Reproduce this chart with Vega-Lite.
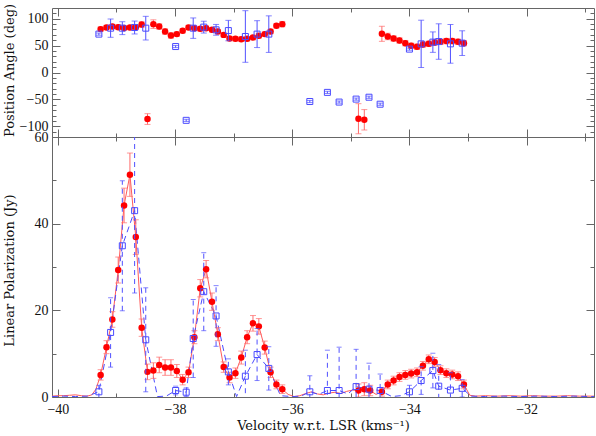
{
  "$schema": "https://vega.github.io/schema/vega-lite/v6.json",
  "padding": {"left": 2, "top": 2, "right": 1, "bottom": 0},
  "spacing": 0,
  "bounds": "flush",
  "config": {
    "font": "Liberation Serif",
    "view": {"stroke": "#666666", "strokeWidth": 1},
    "axis": {
      "labelFont": "Liberation Serif", "titleFont": "DejaVu Serif",
      "labelFontSize": 14, "titleFontSize": 13, "titleFontWeight": "normal",
      "labelColor": "#111111", "titleColor": "#111111",
      "tickColor": "#666666", "domain": false, "grid": false
    }
  },
  "datasets": {
    "red": [
      {"v": -40.1, "pi": 0.2, "m": 0}, {"v": -40.0, "pi": 0.3, "m": 0}, {"v": -39.9, "pi": 0.3, "m": 0},
      {"v": -39.8, "pi": 0.4, "m": 0}, {"v": -39.7, "pi": 0.5, "m": 0}, {"v": -39.6, "pi": 0.3, "m": 0},
      {"v": -39.5, "pi": 0.2, "m": 0}, {"v": -39.42, "pi": 0.5, "m": 0}, {"v": -39.35, "pi": 1.8, "m": 0},
      {"v": -39.27, "pa": 80.7, "pae": 4, "pi": 5.1, "pie": 1.2, "m": 1},
      {"v": -39.17, "pa": 83.7, "pae": 4, "pi": 11.5, "pie": 1.5, "m": 1},
      {"v": -39.07, "pa": 85.5, "pae": 4, "pi": 17.9, "pie": 1.8, "m": 1},
      {"v": -38.97, "pa": 84.4, "pae": 4, "pi": 29.3, "pie": 3, "m": 1},
      {"v": -38.87, "pa": 83.0, "pae": 4, "pi": 44.2, "pie": 4, "m": 1},
      {"v": -38.77, "pa": 83.7, "pae": 4, "pi": 51.3, "pie": 5, "m": 1},
      {"v": -38.67, "pa": 84.4, "pae": 4, "pi": 36.9, "pie": 4, "m": 1},
      {"v": -38.57, "pa": 89.2, "pae": 5, "pi": 16.0, "pie": 2, "m": 1},
      {"v": -38.47, "pa": -86.6, "pae": 10, "pi": 5.8, "pie": 1.8, "m": 1},
      {"v": -38.37, "pa": 90.0, "pae": 8, "pi": 6.1, "pie": 1.8, "m": 1},
      {"v": -38.27, "pa": 85.5, "pae": 5, "pi": 7.4, "pie": 1.8, "m": 1},
      {"v": -38.17, "pa": 76.2, "pae": 5, "pi": 6.8, "pie": 1.8, "m": 1},
      {"v": -38.07, "pa": 68.8, "pae": 5, "pi": 6.8, "pie": 1.8, "m": 1},
      {"v": -37.97, "pa": 71.4, "pae": 4, "pi": 6.0, "pie": 1.5, "m": 1},
      {"v": -37.87, "pa": 77.5, "pae": 4, "pi": 4.0, "pie": 1.2, "m": 1},
      {"v": -37.77, "pa": 83.7, "pae": 4, "pi": 5.7, "pie": 1.2, "m": 1},
      {"v": -37.67, "pa": 82.5, "pae": 4, "pi": 13.8, "pie": 1.5, "m": 1},
      {"v": -37.57, "pa": 81.2, "pae": 4, "pi": 25.1, "pie": 2, "m": 1},
      {"v": -37.47, "pa": 82.5, "pae": 4, "pi": 29.5, "pie": 2, "m": 1},
      {"v": -37.37, "pa": 79.4, "pae": 4, "pi": 22.0, "pie": 2, "m": 1},
      {"v": -37.27, "pa": 76.2, "pae": 4, "pi": 14.5, "pie": 1.5, "m": 1},
      {"v": -37.17, "pa": 70.0, "pae": 4, "pi": 6.9, "pie": 1.2, "m": 1},
      {"v": -37.07, "pa": 63.2, "pae": 4, "pi": 4.5, "pie": 1.2, "m": 1},
      {"v": -36.97, "pa": 62.6, "pae": 4, "pi": 5.5, "pie": 1.2, "m": 1},
      {"v": -36.87, "pa": 62.0, "pae": 4, "pi": 9.1, "pie": 1.5, "m": 1},
      {"v": -36.77, "pa": 62.6, "pae": 4, "pi": 13.8, "pie": 1.5, "m": 1},
      {"v": -36.67, "pa": 65.0, "pae": 4, "pi": 17.0, "pie": 1.8, "m": 1},
      {"v": -36.57, "pa": 68.2, "pae": 4, "pi": 16.3, "pie": 1.8, "m": 1},
      {"v": -36.47, "pa": 71.4, "pae": 4, "pi": 11.4, "pie": 1.5, "m": 1},
      {"v": -36.37, "pa": 76.2, "pae": 4, "pi": 5.7, "pie": 1.2, "m": 1},
      {"v": -36.27, "pa": 86.8, "pae": 4, "pi": 2.9, "pie": 1, "m": 1},
      {"v": -36.17, "pa": 90.0, "pae": 5, "pi": 1.8, "pie": 1, "m": 1},
      {"v": -36.07, "pi": 0.6, "m": 0}, {"v": -35.97, "pi": 0.1, "m": 0}, {"v": -35.87, "pi": 0.3, "m": 0},
      {"v": -35.77, "pi": 0.8, "m": 0}, {"v": -35.67, "pi": 1.2, "m": 0}, {"v": -35.57, "pi": 0.7, "m": 0},
      {"v": -35.47, "pi": 0.5, "m": 0}, {"v": -35.37, "pi": 0.9, "m": 0}, {"v": -35.27, "pi": 1.1, "m": 0},
      {"v": -35.17, "pi": 0.8, "m": 0}, {"v": -35.07, "pi": 1.3, "m": 0}, {"v": -34.97, "pi": 1.6, "m": 0},
      {"v": -34.87, "pa": -86, "pae": 28, "pi": 1.5, "pie": 1.5, "m": 1},
      {"v": -34.77, "pa": -88, "pae": 19, "pi": 1.8, "pie": 1.5, "m": 1},
      {"v": -34.67, "pi": 1.5, "pie": 1.2, "m": 1},
      {"v": -34.57, "pi": 0.6, "m": 0},
      {"v": -34.47, "pa": 72.0, "pae": 14, "pi": 1.2, "pie": 1, "m": 1},
      {"v": -34.37, "pa": 67.0, "pae": 6, "pi": 2.9, "pie": 1, "m": 1},
      {"v": -34.27, "pa": 63.2, "pae": 5, "pi": 3.8, "pie": 1, "m": 1},
      {"v": -34.17, "pa": 59.5, "pae": 5, "pi": 4.6, "pie": 1, "m": 1},
      {"v": -34.07, "pa": 54.6, "pae": 5, "pi": 5.1, "pie": 1, "m": 1},
      {"v": -33.97, "pa": 49.6, "pae": 5, "pi": 5.4, "pie": 1, "m": 1},
      {"v": -33.87, "pa": 47.8, "pae": 5, "pi": 5.7, "pie": 1, "m": 1},
      {"v": -33.77, "pa": 52.0, "pae": 5, "pi": 7.2, "pie": 1, "m": 1},
      {"v": -33.67, "pa": 53.3, "pae": 5, "pi": 8.7, "pie": 1, "m": 1},
      {"v": -33.57, "pa": 55.8, "pae": 5, "pi": 8.1, "pie": 1, "m": 1},
      {"v": -33.47, "pa": 57.0, "pae": 5, "pi": 6.2, "pie": 1, "m": 1},
      {"v": -33.37, "pa": 58.4, "pae": 5, "pi": 5.5, "pie": 1, "m": 1},
      {"v": -33.27, "pa": 58.4, "pae": 5, "pi": 5.2, "pie": 1, "m": 1},
      {"v": -33.17, "pa": 57.0, "pae": 5, "pi": 4.8, "pie": 1, "m": 1},
      {"v": -33.07, "pa": 54.6, "pae": 5, "pi": 2.9, "pie": 1, "m": 1},
      {"v": -32.97, "pi": 0.4, "m": 0}, {"v": -32.87, "pi": 0.2, "m": 0}, {"v": -32.7, "pi": 0.3, "m": 0},
      {"v": -32.5, "pi": 0.2, "m": 0}, {"v": -32.3, "pi": 0.3, "m": 0}, {"v": -32.1, "pi": 0.2, "m": 0},
      {"v": -31.9, "pi": 0.3, "m": 0}, {"v": -31.7, "pi": 0.2, "m": 0}, {"v": -31.5, "pi": 0.2, "m": 0},
      {"v": -31.3, "pi": 0.3, "m": 0}, {"v": -31.1, "pi": 0.2, "m": 0}, {"v": -30.9, "pi": 0.2, "m": 0},
      {"v": -30.8, "pi": 0.2, "m": 0}
    ],
    "blue": [
      {"v": -40.1, "pi": 0.1, "m": 0}, {"v": -39.9, "pi": 0.2, "m": 0}, {"v": -39.7, "pi": 0.1, "m": 0},
      {"v": -39.5, "pi": 0.2, "m": 0},
      {"v": -39.30, "pa": 71.4, "pae": 2, "pi": 1.2, "pie": 1.5, "m": 1},
      {"v": -39.10, "pa": 82.5, "pae": 17, "pi": 14.9, "pie": 8, "m": 1},
      {"v": -38.90, "pa": 82.5, "pae": 12, "pi": 34.9, "pie": 15, "m": 1},
      {"v": -38.69, "pa": 83.7, "pae": 12, "pi": 43.0, "pie": 19, "m": 1},
      {"v": -38.50, "pa": 82.5, "pae": 22, "pi": 13.2, "pie": 12, "m": 1},
      {"v": -38.30, "pi": 0.1, "m": 0}, {"v": -38.15, "pi": 0.2, "m": 0},
      {"v": -37.99, "pa": 48.3, "pae": 2, "pi": 1.5, "pie": 1, "m": 1},
      {"v": -37.81, "pa": -89, "pae": 2, "pi": 1.1, "pie": 1, "m": 1},
      {"v": -37.69, "pa": 82.5, "pae": 19, "pi": 13.5, "pie": 9, "m": 1},
      {"v": -37.51, "pa": 84.4, "pae": 11, "pi": 24.3, "pie": 9, "m": 1},
      {"v": -37.30, "pa": 79.4, "pae": 10, "pi": 18.7, "pie": 7, "m": 1},
      {"v": -37.09, "pa": 78.0, "pae": 19, "pi": 5.8, "pie": 3, "m": 1},
      {"v": -36.95, "pi": 0.1, "m": 0},
      {"v": -36.80, "pa": 67.0, "pae": 48, "pi": 4.8, "pie": 6, "m": 1},
      {"v": -36.60, "pa": 71.4, "pae": 25, "pi": 9.8, "pie": 6, "m": 1},
      {"v": -36.40, "pa": 71.4, "pae": 34, "pi": 6.6, "pie": 5, "m": 1},
      {"v": -36.2, "pi": 0.3, "m": 0}, {"v": -36.0, "pi": 0.1, "m": 0}, {"v": -35.85, "pi": 0.2, "m": 0},
      {"v": -35.70, "pa": -54, "pae": 2, "pi": 1.2, "pie": 3.7, "m": 1},
      {"v": -35.55, "pi": 0.6, "m": 0},
      {"v": -35.40, "pa": -37, "pae": 2, "pi": 1.5, "pie": 9.3, "m": 1},
      {"v": -35.20, "pa": -55, "pae": 2, "pi": 1.5, "pie": 10, "m": 1},
      {"v": -35.05, "pi": 0.7, "m": 0},
      {"v": -34.91, "pa": -49.5, "pae": 2, "pi": 2.4, "pie": 8.6, "m": 1},
      {"v": -34.69, "pa": -46, "pae": 2, "pi": 1.8, "pie": 6, "m": 1},
      {"v": -34.50, "pa": -59, "pae": 2, "pi": 1.5, "pie": 3.8, "m": 1},
      {"v": -34.30, "pi": 0.1, "m": 0}, {"v": -34.15, "pi": 0.3, "m": 0},
      {"v": -34.00, "pa": 43.5, "pae": 2, "pi": 1.2, "pie": 1.5, "m": 1},
      {"v": -33.80, "pa": 53.3, "pae": 44, "pi": 3.8, "pie": 3.2, "m": 1},
      {"v": -33.60, "pa": 56.5, "pae": 19, "pi": 6.1, "pie": 4, "m": 1},
      {"v": -33.50, "pa": 57.6, "pae": 33, "pi": 2.5, "pie": 5, "m": 1},
      {"v": -33.30, "pa": 53.3, "pae": 36, "pi": 1.6, "pie": 4, "m": 1},
      {"v": -33.10, "pa": 54.6, "pae": 23, "pi": 2.0, "pie": 2, "m": 1},
      {"v": -32.95, "pi": 0.2, "m": 0}, {"v": -32.7, "pi": 0.1, "m": 0}, {"v": -32.4, "pi": 0.2, "m": 0},
      {"v": -32.1, "pi": 0.1, "m": 0}, {"v": -31.8, "pi": 0.2, "m": 0}, {"v": -31.5, "pi": 0.1, "m": 0},
      {"v": -31.2, "pi": 0.2, "m": 0}, {"v": -30.9, "pi": 0.1, "m": 0}, {"v": -30.8, "pi": 0.1, "m": 0}
    ]
  },
  "vconcat": [
    {
      "width": 542, "height": 129,
      "resolve": {"axis": {"x": "independent", "y": "independent"}},
      "layer": [
        {
          "data": {"name": "red"},
          "transform": [{"filter": "datum.m == 1 && isValid(datum.pa)"}],
          "mark": {"type": "errorbar", "color": "#ff6b6b", "ticks": {"size": 6}, "clip": true},
          "encoding": {
            "x": {"field": "v", "type": "quantitative", "scale": {"domain": [-40.1, -30.85], "nice": false, "zero": false},
              "axis": {"orient": "bottom", "title": null, "labels": false, "values": [-40,-39,-38,-37,-36,-35,-34,-33,-32,-31],
                "tickSize": {"condition": {"test": "datum.value % 2 == 0", "value": -8}, "value": -4}}},
            "y": {"field": "pa", "type": "quantitative", "scale": {"domain": [-120, 120], "nice": false, "zero": false},
              "axis": {"orient": "left", "title": "Position Angle (deg)", "titleX": -36, "titleY": 62,
                "values": [-110,-100,-90,-80,-70,-60,-50,-40,-30,-20,-10,0,10,20,30,40,50,60,70,80,90,100,110],
                "labelExpr": "datum.value % 50 == 0 ? datum.label : ''",
                "labelPadding": 12,
                "tickSize": {"condition": {"test": "datum.value % 50 == 0", "value": -8}, "value": -4}}},
            "yError": {"field": "pae"}
          }
        },
        {
          "data": {"name": "red"},
          "transform": [{"filter": "datum.m == 1 && isValid(datum.pa)"}],
          "mark": {"type": "point", "shape": "circle", "filled": true, "color": "#ff0000", "size": 42, "opacity": 1, "clip": true},
          "encoding": {
            "x": {"field": "v", "type": "quantitative", "scale": {"domain": [-40.1, -30.85], "nice": false, "zero": false}, "axis": null},
            "y": {"field": "pa", "type": "quantitative", "scale": {"domain": [-120, 120], "nice": false, "zero": false}, "axis": null}
          }
        },
        {
          "data": {"name": "blue"},
          "transform": [{"filter": "datum.m == 1 && isValid(datum.pa)"}],
          "mark": {"type": "errorbar", "color": "#5050ff", "ticks": {"size": 6}, "clip": true},
          "encoding": {
            "x": {"field": "v", "type": "quantitative", "scale": {"domain": [-40.1, -30.85], "nice": false, "zero": false}, "axis": null},
            "y": {"field": "pa", "type": "quantitative", "scale": {"domain": [-120, 120], "nice": false, "zero": false}, "axis": null},
            "yError": {"field": "pae"}
          }
        },
        {
          "data": {"name": "blue"},
          "transform": [{"filter": "datum.m == 1 && isValid(datum.pa)"}],
          "mark": {"type": "point", "shape": "square", "filled": false, "color": "#4a4aff", "size": 36, "strokeWidth": 1, "opacity": 1, "clip": true},
          "encoding": {
            "x": {"field": "v", "type": "quantitative", "scale": {"domain": [-40.1, -30.85], "nice": false, "zero": false}, "axis": null},
            "y": {"field": "pa", "type": "quantitative", "scale": {"domain": [-120, 120], "nice": false, "zero": false}, "axis": null}
          }
        },
        {
          "data": {"name": "blue"},
          "transform": [{"filter": "datum.m == 1 && isValid(datum.pa)"}],
          "mark": {"type": "point", "opacity": 0},
          "encoding": {
            "x": {"field": "v", "type": "quantitative", "scale": {"domain": [-40.1, -30.85], "nice": false, "zero": false},
              "axis": {"orient": "top", "title": null, "labels": false, "values": [-40,-39,-38,-37,-36,-35,-34,-33,-32,-31],
                "tickSize": {"condition": {"test": "datum.value % 2 == 0", "value": -8}, "value": -4}}},
            "y": {"field": "pa", "type": "quantitative", "scale": {"domain": [-120, 120], "nice": false, "zero": false},
              "axis": {"orient": "right", "title": null, "labels": false,
                "values": [-110,-100,-90,-80,-70,-60,-50,-40,-30,-20,-10,0,10,20,30,40,50,60,70,80,90,100,110],
                "tickSize": {"condition": {"test": "datum.value % 50 == 0", "value": -8}, "value": -4}}}
          }
        }
      ]
    },
    {
      "width": 542, "height": 260,
      "resolve": {"axis": {"x": "independent", "y": "independent"}},
      "layer": [
        {
          "data": {"name": "red"},
          "mark": {"type": "line", "color": "#ff5a5a", "strokeWidth": 1, "clip": true},
          "encoding": {
            "x": {"field": "v", "type": "quantitative", "scale": {"domain": [-40.1, -30.85], "nice": false, "zero": false},
              "axis": {"orient": "bottom", "title": "Velocity w.r.t. LSR (kms⁻¹)", "values": [-40,-39,-38,-37,-36,-35,-34,-33,-32,-31],
                "labelExpr": "datum.value % 2 == 0 ? datum.label : ''", "labelPadding": 13, "titlePadding": 3,
                "tickSize": {"condition": {"test": "datum.value % 2 == 0", "value": -8}, "value": -4}}},
            "y": {"field": "pi", "type": "quantitative", "scale": {"domain": [0, 60], "nice": false},
              "axis": {"orient": "left", "title": "Linear Polarization (Jy)", "titleX": -36, "titleY": 133,
                "values": [0, 10, 20, 30, 40, 50, 60],
                "labelExpr": "datum.value % 20 == 0 ? datum.label : ''",
                "labelPadding": 12,
                "tickSize": {"condition": {"test": "datum.value % 20 == 0", "value": -8}, "value": -4}}}
          }
        },
        {
          "data": {"name": "blue"},
          "mark": {"type": "line", "color": "#4a4aff", "strokeWidth": 1, "strokeDash": [6, 4], "clip": true},
          "encoding": {
            "x": {"field": "v", "type": "quantitative", "scale": {"domain": [-40.1, -30.85], "nice": false, "zero": false}, "axis": null},
            "y": {"field": "pi", "type": "quantitative", "scale": {"domain": [0, 60], "nice": false}, "axis": null}
          }
        },
        {
          "data": {"name": "red"},
          "transform": [{"filter": "datum.m == 1"}],
          "mark": {"type": "errorbar", "color": "#ff6b6b", "ticks": {"size": 6}, "clip": true},
          "encoding": {
            "x": {"field": "v", "type": "quantitative", "scale": {"domain": [-40.1, -30.85], "nice": false, "zero": false}, "axis": null},
            "y": {"field": "pi", "type": "quantitative", "scale": {"domain": [0, 60], "nice": false}, "axis": null},
            "yError": {"field": "pie"}
          }
        },
        {
          "data": {"name": "red"},
          "transform": [{"filter": "datum.m == 1"}],
          "mark": {"type": "point", "shape": "circle", "filled": true, "color": "#ff0000", "size": 42, "opacity": 1, "clip": true},
          "encoding": {
            "x": {"field": "v", "type": "quantitative", "scale": {"domain": [-40.1, -30.85], "nice": false, "zero": false}, "axis": null},
            "y": {"field": "pi", "type": "quantitative", "scale": {"domain": [0, 60], "nice": false}, "axis": null}
          }
        },
        {
          "data": {"name": "blue"},
          "transform": [{"filter": "datum.m == 1"}],
          "mark": {"type": "errorbar", "color": "#5050ff", "ticks": {"size": 5}, "rule": {"strokeDash": [5, 4]}, "clip": true},
          "encoding": {
            "x": {"field": "v", "type": "quantitative", "scale": {"domain": [-40.1, -30.85], "nice": false, "zero": false}, "axis": null},
            "y": {"field": "pi", "type": "quantitative", "scale": {"domain": [0, 60], "nice": false}, "axis": null},
            "yError": {"field": "pie"}
          }
        },
        {
          "data": {"name": "blue"},
          "transform": [{"filter": "datum.m == 1"}],
          "mark": {"type": "point", "shape": "square", "filled": false, "color": "#4a4aff", "size": 36, "strokeWidth": 1, "opacity": 1, "clip": true},
          "encoding": {
            "x": {"field": "v", "type": "quantitative", "scale": {"domain": [-40.1, -30.85], "nice": false, "zero": false}, "axis": null},
            "y": {"field": "pi", "type": "quantitative", "scale": {"domain": [0, 60], "nice": false}, "axis": null}
          }
        },
        {
          "data": {"name": "blue"},
          "transform": [{"filter": "datum.m == 1"}],
          "mark": {"type": "point", "opacity": 0},
          "encoding": {
            "x": {"field": "v", "type": "quantitative", "scale": {"domain": [-40.1, -30.85], "nice": false, "zero": false},
              "axis": {"orient": "top", "title": null, "labels": false, "values": [-40,-39,-38,-37,-36,-35,-34,-33,-32,-31],
                "tickSize": {"condition": {"test": "datum.value % 2 == 0", "value": -8}, "value": -4}}},
            "y": {"field": "pi", "type": "quantitative", "scale": {"domain": [0, 60], "nice": false},
              "axis": {"orient": "right", "title": null, "labels": false, "values": [0, 10, 20, 30, 40, 50, 60],
                "tickSize": {"condition": {"test": "datum.value % 20 == 0", "value": -8}, "value": -4}}}
          }
        }
      ]
    }
  ]
}
